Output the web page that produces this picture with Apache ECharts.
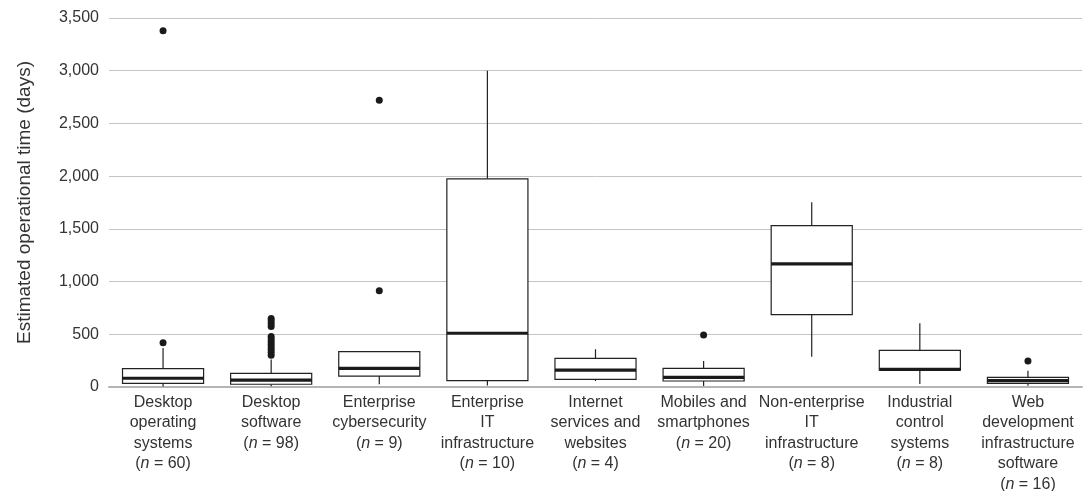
<!DOCTYPE html>
<html>
<head>
<meta charset="utf-8">
<script src="https://cdn.jsdelivr.net/npm/echarts@6/dist/echarts.min.js"></script>
<style>
  html, body { margin: 0; padding: 0; background: #fff; }
  #chart { width: 1086px; height: 491px; }
</style>
</head>
<body>
<div id="chart"></div>
<script>
// Product categories (x axis) and their sample sizes
const categories = [
  'Desktop\noperating\nsystems',
  'Desktop\nsoftware',
  'Enterprise\ncybersecurity',
  'Enterprise\nIT\ninfrastructure',
  'Internet\nservices and\nwebsites',
  'Mobiles and\nsmartphones',
  'Non-enterprise\nIT\ninfrastructure',
  'Industrial\ncontrol\nsystems',
  'Web\ndevelopment\ninfrastructure\nsoftware'
];
const sampleSizes = [60, 98, 9, 10, 4, 20, 8, 8, 16];

// Box statistics per category (days)
const whiskerLow  = [5, 8, 26, 15, 57, 10, 288, 28, 12];
const lowerQuart  = [35, 26, 104, 60, 73, 57, 687, 160, 35];
const medians     = [83, 66, 177, 510, 161, 92, 1168, 168, 60];
const upperQuart  = [174, 130, 335, 1975, 272, 177, 1531, 348, 92];
const whiskerHigh = [370, 260, 335, 3000, 358, 247, 1753, 605, 155];

// Outliers: [category index, days]
const outliers = [
  [0, 420], [0, 3380],
  [1, 300], [1, 330], [1, 355], [1, 380], [1, 405], [1, 430], [1, 455], [1, 480],
  [1, 575], [1, 600], [1, 625], [1, 650],
  [2, 914], [2, 2720],
  [5, 494],
  [8, 247]
];

// Y axis ticks
const yMin = 0, yMax = 3500, yStep = 500;

const boxRows = categories.map((_, i) =>
  [i, whiskerLow[i], lowerQuart[i], medians[i], upperQuart[i], whiskerHigh[i]]);

const FONT = '"Liberation Sans", Arial, Helvetica, sans-serif';
const TEXT = '#333333';

function renderBox(params, api) {
  const i = api.value(0);
  const pLow = api.coord([i, api.value(1)]);
  const pQ1 = api.coord([i, api.value(2)]);
  const pMed = api.coord([i, api.value(3)]);
  const pQ3 = api.coord([i, api.value(4)]);
  const pHigh = api.coord([i, api.value(5)]);
  const bandW = api.size([1, 0])[0];
  const half = bandW * 0.375;
  const cx = pMed[0];
  const stroke = { stroke: '#222', lineWidth: 1.2, fill: null };
  return {
    type: 'group',
    children: [
      { type: 'line', shape: { x1: cx, y1: pLow[1], x2: cx, y2: pQ1[1] }, style: stroke },
      { type: 'line', shape: { x1: cx, y1: pQ3[1], x2: cx, y2: pHigh[1] }, style: stroke },
      { type: 'rect', shape: { x: cx - half, y: pQ3[1], width: half * 2, height: pQ1[1] - pQ3[1] },
        style: { fill: '#fff', stroke: '#222', lineWidth: 1.2 } },
      { type: 'line', shape: { x1: cx - half, y1: pMed[1], x2: cx + half, y2: pMed[1] },
        style: { stroke: '#1a1a1a', lineWidth: 3.2 } }
    ]
  };
}

const chart = echarts.init(document.getElementById('chart'), null, { renderer: 'canvas' });
chart.setOption({
  animation: false,
  backgroundColor: '#ffffff',
  textStyle: { fontFamily: FONT },
  grid: { left: 109, right: 4, top: 18, bottom: 104, containLabel: false, outerBoundsMode: 'none' },
  xAxis: {
    type: 'category',
    data: categories,
    axisLine: { lineStyle: { color: '#b5b5b5', width: 2 } },
    axisTick: { show: false },
    splitLine: { show: false },
    axisLabel: {
      interval: 0,
      margin: 5,
      color: TEXT,
      fontSize: 16,
      lineHeight: 20.5,
      fontFamily: FONT,
      formatter: (val, idx) => val + '\n({i|n} = ' + sampleSizes[idx] + ')',
      rich: {
        i: { fontStyle: 'italic', fontSize: 16, lineHeight: 20.5, color: TEXT, fontFamily: FONT }
      }
    }
  },
  yAxis: {
    type: 'value',
    min: yMin,
    max: yMax,
    interval: yStep,
    name: 'Estimated operational time (days)',
    nameLocation: 'middle',
    nameGap: 75,
    nameTextStyle: { fontSize: 19, color: TEXT, fontFamily: FONT },
    axisLine: { show: false },
    axisTick: { show: false },
    splitLine: { lineStyle: { color: '#c4c4c4', width: 1 } },
    axisLabel: {
      margin: 10,
      color: TEXT,
      fontSize: 16,
      fontFamily: FONT,
      formatter: v => v.toLocaleString('en-US')
    }
  },
  series: [
    {
      type: 'custom',
      renderItem: renderBox,
      encode: { x: 0, y: [1, 2, 3, 4, 5] },
      data: boxRows,
      z: 3
    },
    {
      type: 'scatter',
      data: outliers,
      symbol: 'circle',
      symbolSize: 7,
      itemStyle: { color: '#1a1a1a', opacity: 1 },
      z: 4
    }
  ]
});
</script>
</body>
</html>
